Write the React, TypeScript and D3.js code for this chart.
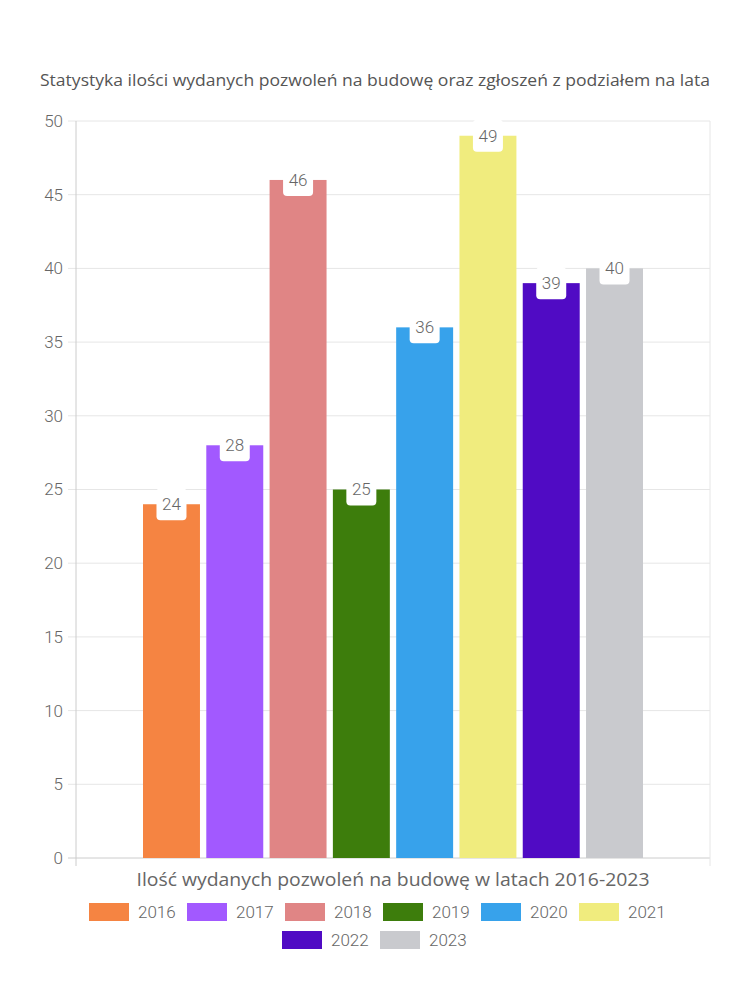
import React from "react";
import * as d3 from "d3";

const years = ["2016", "2017", "2018", "2019", "2020", "2021", "2022", "2023"];
const values = [24, 28, 46, 25, 36, 49, 39, 40];
const colors = ["#F58442", "#A259FF", "#E08585", "#3D7D0C", "#37A2EB", "#F0EC7E", "#500BC4", "#C9CACE"];
const yTicks = [0, 5, 10, 15, 20, 25, 30, 35, 40, 45, 50];
const title = "Statystyka ilości wydanych pozwoleń na budowę oraz zgłoszeń z podziałem na lata";
const xTitle = "Ilość wydanych pozwoleń na budowę w latach 2016-2023";

export default function App() {
  const W = 750, H = 1000;
  const left = 76, right = 710, top = 121, bottom = 858;
  const y = d3.scaleLinear().domain([0, 50]).range([bottom, top]);
  const cx = (left + right) / 2;
  const x = d3.scaleBand<string>().domain(years).range([cx - 250, cx + 250]).paddingInner(0.1).paddingOuter(0);
  const font = "'Open Sans', sans-serif";
  const numFont = "Roboto, sans-serif";
  const textColor = "#666";

  const itemW = 98;
  const legendRows = [years.slice(0, 6), years.slice(6)];

  return (
    <svg width={W} height={H} style={{ position: "absolute", left: 0, top: 0 }}>
      <rect width={W} height={H} fill="#fff" />
      <text x={375} y={86} textAnchor="middle" fontFamily={font} fontSize={15.5} fill="#555" textLength={670} lengthAdjust="spacingAndGlyphs">{title}</text>
      {yTicks.map((t) => (
        <g key={t}>
          <line x1={68} x2={right} y1={y(t)} y2={y(t)} stroke={t === 0 ? "#ccc" : "#e6e6e6"} />
          <text x={63} y={y(t)} dy="0.35em" textAnchor="end" fontFamily={numFont} fontWeight={300} fontSize={17} fill={textColor}>{t}</text>
        </g>
      ))}
      <line x1={left} x2={left} y1={top} y2={bottom + 8} stroke="#ccc" />
      <line x1={right} x2={right} y1={top} y2={bottom + 8} stroke="#e6e6e6" />
      {years.map((yr, i) => (
        <rect key={yr} x={x(yr)!} y={y(values[i])} width={x.bandwidth()} height={bottom - y(values[i])} fill={colors[i]} />
      ))}
      {years.map((yr, i) => {
        const c = x(yr)! + x.bandwidth() / 2;
        const ty = y(values[i]);
        return (
          <g key={"l" + yr}>
            <rect x={c - 15} y={ty - 16} width={30} height={32} rx={4} fill="#fff" />
            <text x={c} y={ty} dy="0.35em" textAnchor="middle" fontFamily={numFont} fontWeight={300} fontSize={17} fill={textColor}>{values[i]}</text>
          </g>
        );
      })}
      <text x={cx} y={886} textAnchor="middle" fontFamily={font} fontSize={18} fill={textColor} textLength={513} lengthAdjust="spacingAndGlyphs">{xTitle}</text>
      {legendRows.map((row, ri) => {
        const startX = ri === 0 ? 89 : 282;
        const ly = ri === 0 ? 912 : 940;
        return row.map((yr, j) => {
          const i = years.indexOf(yr);
          const sx = startX + j * itemW;
          return (
            <g key={"lg" + yr}>
              <rect x={sx} y={ly - 9} width={40} height={18} fill={colors[i]} />
              <text x={sx + 49} y={ly} dy="0.35em" fontFamily={numFont} fontWeight={300} fontSize={17} fill={textColor}>{yr}</text>
            </g>
          );
        });
      })}
    </svg>
  );
}
